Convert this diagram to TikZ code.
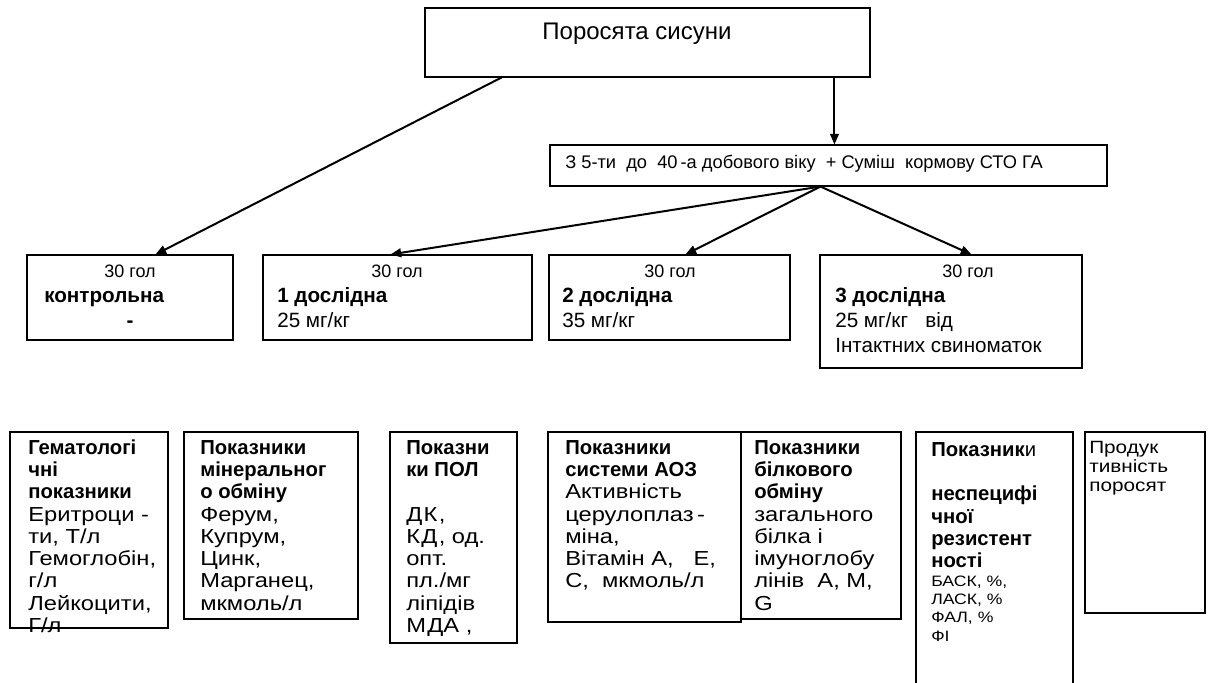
\documentclass[tikz,border=0pt]{standalone}
\usepackage{fontspec}
\setmainfont{Liberation Sans}
\newfontfamily\widefont[FakeStretch=1.17]{Liberation Sans}
\usetikzlibrary{arrows.meta,calc,fit}
\newcommand{\asc}[1]{\rule{0pt}{#1}}
\newcommand{\wtxt}[1]{{\widefont #1}}
\begin{document}
\begin{tikzpicture}[x=0.75pt,y=-0.75pt,
  box/.style={draw=black,line width=0.8pt,inner sep=0pt},
  conn/.style={line width=1.5pt,line cap=round},
  arr/.style={conn,-{Triangle[length=8pt,width=6.5pt]}},
  txt/.style={inner sep=0pt,anchor=base west,align=left},
  mtxt/.style={inner sep=0pt,anchor=north west,align=left},
  ctxt/.style={inner sep=0pt,anchor=base},
  ftop/.style={font=\fontsize{18}{21}\selectfont},
  fmid/.style={font=\fontsize{13.7}{16}\selectfont},
  fsm/.style={font=\fontsize{13.5}{16}\selectfont},
  frow/.style={font=\fontsize{15.5}{18.4}\selectfont},
  frowb/.style={font=\fontsize{15.5}{18.4}\selectfont\bfseries},
  fbot/.style={font=\fontsize{15.2}{16.7}\selectfont},
  fsmall/.style={font=\fontsize{11.3}{13.7}\selectfont},
  fprod/.style={font=\fontsize{13.3}{14.3}\selectfont}
]
\useasboundingbox (0,0) rectangle (1214,682);
\clip (0,0) rectangle (1214,682);

% top level
\node[box,fit={(425,8) (870,77)}] (top) {};
\node[ctxt,ftop] (toptxt) at (637,39) {Поросята сисуни};

\node[box,fit={(550,145) (1107,186)}] (feed) {};
\node[txt,fmid] (feedtxt) at (565,168) {З 5-ти\ \ до\ \ 40\,-а добового віку\ \ + Суміш\ \ кормову СТО ГА};

% groups
\node[box,fit={(27,255) (233,340)}] (g0) {};
\node[ctxt,fsm] (g0a) at (130,277) {30 гол};
\node[txt,frowb] (g0b) at (44,302) {контрольна};
\node[ctxt,frowb] (g0c) at (130,327) {-};

\node[box,fit={(263,255) (532,340)}] (g1) {};
\node[ctxt,fsm] (g1a) at (397,277) {30 гол};
\node[txt,frowb] (g1b) at (277,302) {1 дослідна};
\node[txt,frow] (g1c) at (277,327) {25 мг/кг};

\node[box,fit={(549,255) (790,340)}] (g2) {};
\node[ctxt,fsm] (g2a) at (670,277) {30 гол};
\node[txt,frowb] (g2b) at (562,302) {2 дослідна};
\node[txt,frow] (g2c) at (562,327) {35 мг/кг};

\node[box,fit={(820,255) (1082,368)}] (g3) {};
\node[ctxt,fsm] (g3a) at (968,277) {30 гол};
\node[txt,frowb] (g3b) at (835,302) {3 дослідна};
\node[txt,frow] (g3c) at (835,327) {25 мг/кг\ \ \ від};
\node[txt,frow] (g3d) at (835,352) {Інтактних свиноматок};

% connectors
\coordinate (t1) at ($(top.south west)+(77,0)$);
\draw[arr] (t1) -- ($(g0.north west)+(129,0)$);
\draw[arr] ($(top.south west)+(410,0)$) -- ($(feed.north west)+(285,0)$);
\coordinate (fork) at ($(feed.south west)+(271,0)$);
\draw[arr] (fork) -- ($(g1.north west)+(128,0)$);
\draw[arr] (fork) -- ($(g2.north west)+(137,0)$);
\draw[arr] (fork) -- ($(g3.north west)+(152,0)$);

% indicator boxes (first baseline at y=454: text top at 454-16)
\node[box,fit={(10,432) (168,628)}] (b1) {};
\node[mtxt,fbot] (b1t) at (28,438) {\asc{12pt}\textbf{Гематологі}\\\textbf{чні}\\\textbf{показники}\\\wtxt{Еритроци -}\\\wtxt{ти, Т/л}\\\wtxt{Гемоглобін,}\\\wtxt{г/л}\\\wtxt{Лейкоцити,}\\\wtxt{Г/л}};

\node[box,fit={(184,432) (358,619)}] (b2) {};
\node[mtxt,fbot] (b2t) at (200,438) {\asc{12pt}\textbf{Показники}\\\textbf{мінеральног}\\\textbf{о обміну}\\\wtxt{Ферум,}\\\wtxt{Купрум,}\\\wtxt{Цинк,}\\\wtxt{Марганец,}\\\wtxt{мкмоль/л}};

\node[box,fit={(390,432) (517,643)}] (b3) {};
\node[mtxt,fbot] (b3t) at (406,438) {\asc{12pt}\textbf{Показни}\\\textbf{ки ПОЛ}\\[16.7pt]\wtxt{Д\kern1pt К\kern1pt ,}\\\wtxt{К\kern1pt Д\kern1pt , од.}\\\wtxt{опт.}\\\wtxt{пл./мг}\\\wtxt{ліпідів}\\\wtxt{М\kern1pt ДА ,}};

\node[box,fit={(548,432) (741,622)}] (b4) {};
\node[mtxt,fbot] (b4t) at (565,438) {\asc{12pt}\textbf{Показники}\\\textbf{системи АОЗ}\\\wtxt{Активність}\\\wtxt{церулоплаз\,-}\\\wtxt{міна,}\\\wtxt{Вітамін А,\ \ \ Е,}\\\wtxt{С,\ \ мкмоль/л}};

\node[box,fit={(741,432) (901,619)}] (b5) {};
\node[mtxt,fbot] (b5t) at (754,438) {\asc{12pt}\textbf{Показники}\\\textbf{білкового}\\\textbf{обміну}\\\wtxt{загального}\\\wtxt{білка і}\\\wtxt{імуноглобу}\\\wtxt{лінів\ \ A, M,}\\\wtxt{G}};

\node[box,fit={(916,432) (1073,700)}] (b6) {};
\node[mtxt,fbot] (b6t) at (931,440) {\asc{12pt}\textbf{Показник}и\\[16.7pt]\textbf{неспецифі}\\\textbf{чної}\\\textbf{резистент}\\\textbf{ності}};
\node[mtxt,fsmall] (b6s) at (931,574) {\asc{9pt}\wtxt{БАСК, \%,}\\\wtxt{ЛАСК, \%}\\\wtxt{ФАЛ, \%}\\\wtxt{ФІ}};

\node[box,fit={(1085,432) (1205,613)}] (b7) {};
\node[mtxt,fprod] (b7t) at (1089,439) {\asc{10.5pt}\wtxt{Продук}\\\wtxt{тивність}\\\wtxt{поросят}};
\end{tikzpicture}
\end{document}
